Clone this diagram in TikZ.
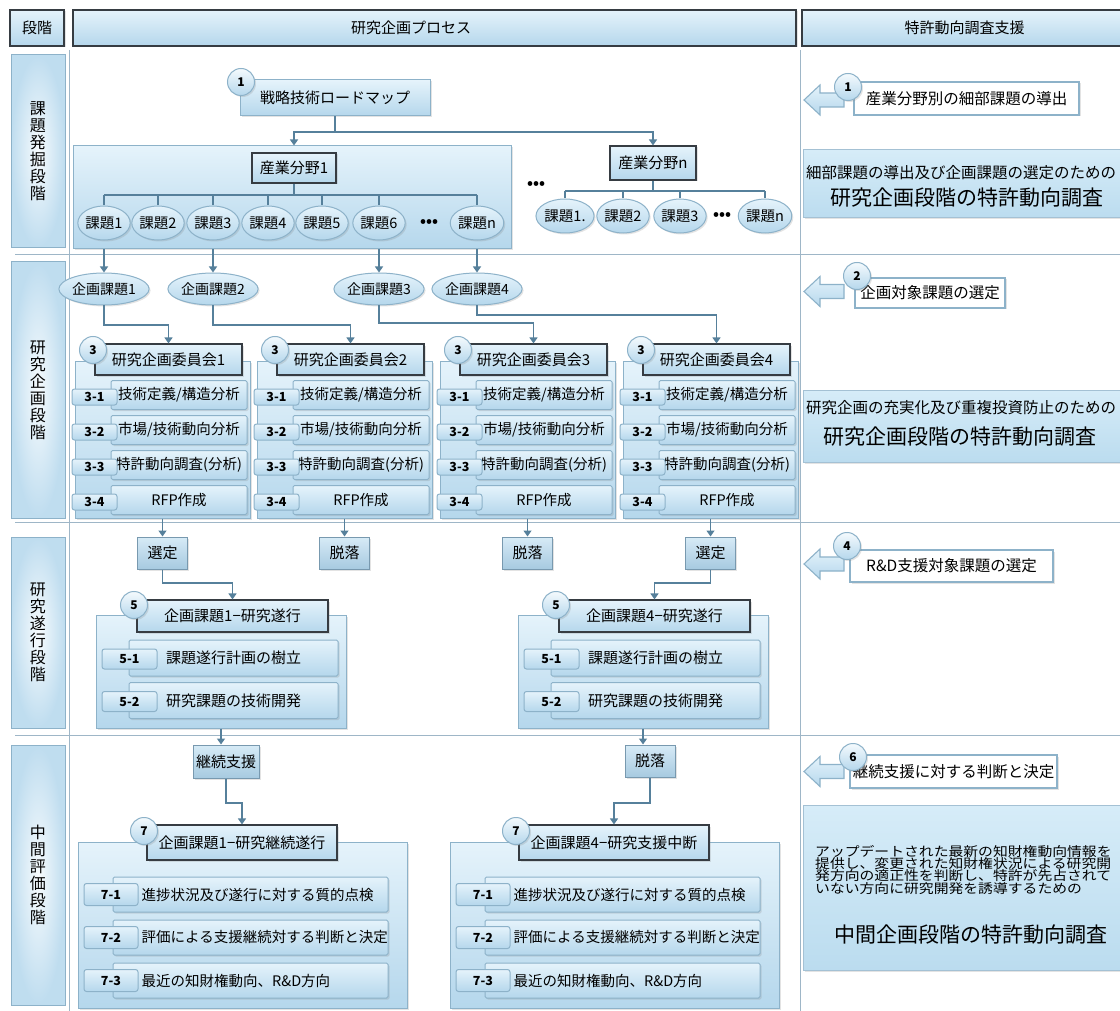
\documentclass[tikz,border=0pt]{standalone}
\usepackage{fontspec}
\setmainfont{Noto Sans CJK JP}
\newfontfamily\widecjk[FakeStretch=1.14]{Noto Sans CJK JP}
\usetikzlibrary{arrows.meta,shapes.geometric,shadows}

\definecolor{lnk}{HTML}{56809B}
\definecolor{bdr}{HTML}{8DB2C9}
\definecolor{dark}{HTML}{363C42}
\definecolor{paleA}{HTML}{E5F3FB}
\definecolor{paleB}{HTML}{B5D7EC}
\definecolor{gridc}{HTML}{9EB6C7}
\definecolor{infoA}{HTML}{D6ECF8}
\definecolor{infoB}{HTML}{BBDCEF}

\tikzset{
  gridline/.style={draw=gridc, line width=1pt},
  wire/.style={draw=lnk, line width=1.3pt},
  link/.style={wire, -{Triangle[width=8pt,length=6pt]}},
  bluefill/.style={top color=paleA, bottom color=paleB},
  soft/.style={drop shadow={opacity=.22, shadow xshift=1.5pt, shadow yshift=-1.5pt}},
  pane/.style={bluefill, soft, draw=bdr, line width=1pt, inner sep=0pt, font=\fontsize{15}{17}\selectfont},
  head/.style={bluefill, soft, draw=dark, line width=1.1pt, inner sep=0pt, font=\fontsize{15}{17}\selectfont},
  stagebox/.style={draw=bdr, line width=1pt, inner color=white!70!paleA, outer color=paleB!80!paleA,
    minimum width=54, inner sep=0pt, align=center, font=\fontsize{16}{17}\selectfont},
  pill/.style={ellipse, bluefill, soft, draw=bdr, line width=1pt, minimum width=48, minimum height=34,
    inner sep=0pt, font=\fontsize{14.5}{16}\selectfont},
  bar/.style={pane, rounded corners=1.5pt, font=\fontsize{14.5}{16}\selectfont},
  tag/.style={bluefill, draw=bdr, line width=1pt, rounded corners=2.5pt, inner sep=0pt,
    font=\bfseries\fontsize{12.5}{14}\selectfont},
  badge/.style={circle, draw=bdr, line width=1pt, top color=white!60!paleA, bottom color=paleB, soft,
    minimum size=27, inner sep=0pt, font=\bfseries\fontsize{12}{14}\selectfont},
  pick/.style={draw=lnk!80, line width=1pt, top color=paleA!70!paleB, bottom color=paleB!85!lnk, soft,
    minimum width=50, minimum height=32, inner sep=0pt, font=\fontsize{15}{17}\selectfont},
  note/.style={draw=bdr, line width=1.6pt, fill=white, soft, inner sep=0pt, font=\fontsize{15.5}{17}\selectfont},
  info/.style={draw=bdr!80, line width=1pt, top color=infoA, bottom color=infoB, soft, inner sep=0pt},
  infosmall/.style={inner sep=0pt, font=\fontsize{15.5}{17}\selectfont},
  infobig/.style={inner sep=0pt, font=\fontsize{21}{24}\selectfont},
  hollow/.style={draw=bdr, line width=1.1pt, top color=paleA, bottom color=paleB},
  dots/.style={inner sep=0pt, font=\bfseries\fontsize{15}{16}\selectfont},
  rowtext/.style={inner sep=0pt, font=\fontsize{14.5}{16}\selectfont}
}

\begin{document}
\begin{tikzpicture}[x=1pt,y=-1pt]
\useasboundingbox (0,0) rectangle (1120,1011);
\fill[white] (0,0) rectangle (1120,1011);

% grid
\draw[gridline] (69,50) -- (69,1011);
\draw[gridline] (800,50) -- (800,1011);
\foreach \yy in {255,522,735} \draw[gridline] (15,\yy) -- (1120,\yy);

% column heads
\node[head, minimum width=54, minimum height=36] (hstage) at (37,28) {段階};
\node[head, minimum width=723, minimum height=36] (hproc) at (434.5,28) {};
\node[inner sep=0pt, font=\fontsize{15}{17}\selectfont] (hproct) at (411,28) {研究企画プロセス};
\node[head, minimum width=325, minimum height=36] (hsup) at (964.5,28) {特許動向調査支援};

% stage labels
\node[stagebox, minimum height=193] (s1) at (38,151.5) {課\\題\\発\\掘\\段\\階};
\node[stagebox, minimum height=256] (s2) at (38,390) {研\\究\\企\\画\\段\\階};
\node[stagebox, minimum height=191] (s3) at (38,632.5) {研\\究\\遂\\行\\段\\階};
\node[stagebox, minimum height=260] (s4) at (38,875) {中\\間\\評\\価\\段\\階};

% support arrows
\foreach \yy in {100,291.5,564,771.5}
  \draw[hollow] (804,\yy) -- ++(16,-15) -- ++(0,8) -- ++(24,0) -- ++(0,14) -- ++(-24,0) -- ++(0,8) -- cycle;

% stage 1
\node[pane, minimum width=190, minimum height=36] (road) at (335,98) {戦略技術ロードマップ};
\node[badge] (b1) at (241,82) {1};
\node[pane, minimum width=438, minimum height=103] (g1) at (292,197.5) {};
\node[head, minimum width=84, minimum height=30] (ind1) at (294,168) {産業分野1};
\foreach \i/\xx in {1/104,2/158,3/213,4/268,5/322,6/379,n/477}
  \node[pill] (t\i) at (\xx,223) {課題\i};
\node[dots] (td) at (429,223) {•••};
\draw[wire] (ind1.south) -- (ind1.south |- 0,195);
\draw[wire] (t1 |- 0,195) -- (tn |- 0,195);
\foreach \i in {1,2,3,4,5,6,n} \draw[wire] (t\i |- 0,195) -- (t\i.north);

\node[dots] (gd) at (536,185) {•••};
\node[head, minimum width=86, minimum height=34] (indn) at (653,163) {産業分野n};
\foreach \i/\xx/\txt in {1/565/課題1.,2/623/課題2,3/680/課題3,n/765/課題n}
  \node[pill] (u\i) at (\xx,216) {\txt};
\node[dots] (ud) at (722,216) {•••};
\draw[wire] (indn.south) -- (indn.south |- 0,191);
\draw[wire] (u1 |- 0,191) -- (un |- 0,191);
\foreach \i in {1,2,3,n} \draw[wire] (u\i |- 0,191) -- (u\i.north);

\draw[wire] (road.south) -- (road.south |- 0,132);
\draw[link] (road.south |- 0,132) -| (ind1 |- g1.north);
\draw[link] (road.south |- 0,132) -| (indn.north);

\node[note, minimum width=225, minimum height=33] (n1) at (966.5,98.5) {産業分野別の細部課題の導出};
\node[badge] (r1) at (848,87) {1};
\node[info, minimum width=321, minimum height=68] (i1) at (963.5,184) {};
\node[infosmall, anchor=west] (i1a) at (806,173) {細部課題の導出及び企画課題の選定のための};
\node[infobig] (i1b) at (967,198) {研究企画段階の特許動向調査};

% stage 2
\foreach \i/\xx in {1/104,2/213,3/379,4/477}
  \node[pill, minimum width=72, minimum height=32, font=\fontsize{14}{16}\selectfont] (p\i) at (\xx,289) {企画課題\i};
\foreach \a/\b in {t1/p1,t3/p2,t6/p3,tn/p4} \draw[link] (g1.south -| \a) -- (\b.north);

\foreach \k/\xg in {1/75,2/257,3/440,4/623} {
  \node[pane, minimum width=175, minimum height=157] (cg\k) at (\xg+87.5,439.5) {};
  \node[head, minimum width=147, minimum height=31] (ch\k) at (\xg+93.5,359.5) {研究企画委員会\k};
  \node[badge] (cb\k) at (\xg+18,350) {3};
  \foreach \r/\yy/\txt in {1/395/{技術定義/構造分析},2/430/{市場/技術動向分析},3/465/{特許動向調査(分析)},4/500/{RFP作成}} {
    \node[bar, minimum width=136, minimum height=29] (cr\k\r) at (\xg+104,\yy) {\txt};
    \node[tag, minimum width=45, minimum height=16] (ct\k\r) at (\xg+19.5,\yy+2) {3-\r};
  }
}
\foreach \i/\yy in {1/325,2/325,3/323,4/315}
  \draw[link] (p\i.south) -- (p\i.south |- 0,\yy) -| (ch\i.north);

\node[note, minimum width=150, minimum height=30] (n2) at (930,293) {企画対象課題の選定};
\node[badge] (r2) at (857,276) {2};
\node[info, minimum width=321, minimum height=72] (i2) at (963.5,426) {};
\node[infosmall, anchor=west] (i2a) at (806,408) {研究企画の充実化及び重複投資防止のための};
\node[infobig] (i2b) at (960,437) {研究企画段階の特許動向調査};

% stage 3
\foreach \k/\txt in {1/選定,2/脱落,3/脱落,4/選定} {
  \node[pick] (d\k) at (cg\k.south |- 0,553) {\txt};
  \draw[link] (cg\k.south) -- (d\k.north);
}

\foreach \k/\xo/\num in {a/96/1,b/518/4} {
  \node[pane, minimum width=250, minimum height=113] (g5\k) at (\xo+125,671.5) {};
  \node[head, minimum width=191, minimum height=32] (h5\k) at (\xo+136.5,616) {企画課題\num−研究遂行};
  \node[badge] (b5\k) at (\xo+38,605) {5};
  \foreach \r/\yy/\txt in {1/658/課題遂行計画の樹立,2/700.5/研究課題の技術開発} {
    \node[bar, minimum width=209, minimum height=36, font=\fontsize{15}{17}\selectfont] (r5\k\r) at (\xo+137.5,\yy) {\txt};
    \node[tag, minimum width=55, minimum height=20] (tg5\k\r) at (\xo+33.5,\yy+1) {5-\r};
  }
}
\draw[link] (d1.south) -- (d1.south |- 0,583) -| (h5a.north);
\draw[link] (d4.south) -- (d4.south |- 0,583) -| (h5b.north);

\node[note, minimum width=203, minimum height=32] (n3) at (951.5,566) {R\&D支援対象課題の選定};
\node[badge] (r3) at (847,546) {4};

% stage 4
\node[pick, minimum width=66, minimum height=33] (k1) at (226,761.5) {継続支援};
\node[pick] (k2) at (650,761) {脱落};
\draw[link] (g5a.south) -- (g5a.south |- k1.north);
\draw[link] (g5b.south) -- (g5b.south |- k2.north);

\foreach \k/\xo/\txt in {a/78/{企画課題1−研究継続遂行},b/450/{企画課題4−研究支援中断}} {
  \node[pane, minimum width=329, minimum height=166] (g7\k) at (\xo+164.5,925) {};
  \node[head, minimum width=190, minimum height=35] (h7\k) at (\xo+164,842.5) {\txt};
  \node[badge] (b7\k) at (\xo+66,831) {7};
  \foreach \r/\yy/\rt in {1/894.5/進捗状況及び遂行に対する質的点検,2/937.5/評価による支援継続対する判断と決定,3/980.5/{最近の知財権動向、R\&D方向}} {
    \node[bar, minimum width=275, minimum height=35] (r7\k\r) at (\xo+172.5,\yy) {};
    \node[tag, minimum width=54, minimum height=22] (tg7\k\r) at (\xo+33,\yy) {7-\r};
    \node[rowtext, anchor=west] (x7\k\r) at ([xshift=29pt]r7\k\r.west) {\rt};
  }
}
\draw[link] (k1.south) -- (k1.south |- 0,803) -| (h7a.north);
\draw[link] (k2.south) -- (k2.south |- 0,803) -| (h7b.north);

\node[note, minimum width=207, minimum height=33] (n4) at (953.5,771.5) {継続支援に対する判断と決定};
\node[badge] (r4) at (853,757) {6};
\node[info, minimum width=321, minimum height=165] (i4) at (963.5,887.5) {};
\node[inner sep=0pt, anchor=north west, align=left, font=\widecjk\fontsize{13}{12.3}\selectfont] (i4a) at (815,845)
 {アップデートされた最新の知財権動向情報を\\提供し、変更された知財権状況による研究開\\発方向の適正性を判断し、特許が先占されて\\いない方向に研究開発を誘導するための};
\node[infobig] (i4b) at (971,935) {中間企画段階の特許動向調査};
\end{tikzpicture}
\end{document}
